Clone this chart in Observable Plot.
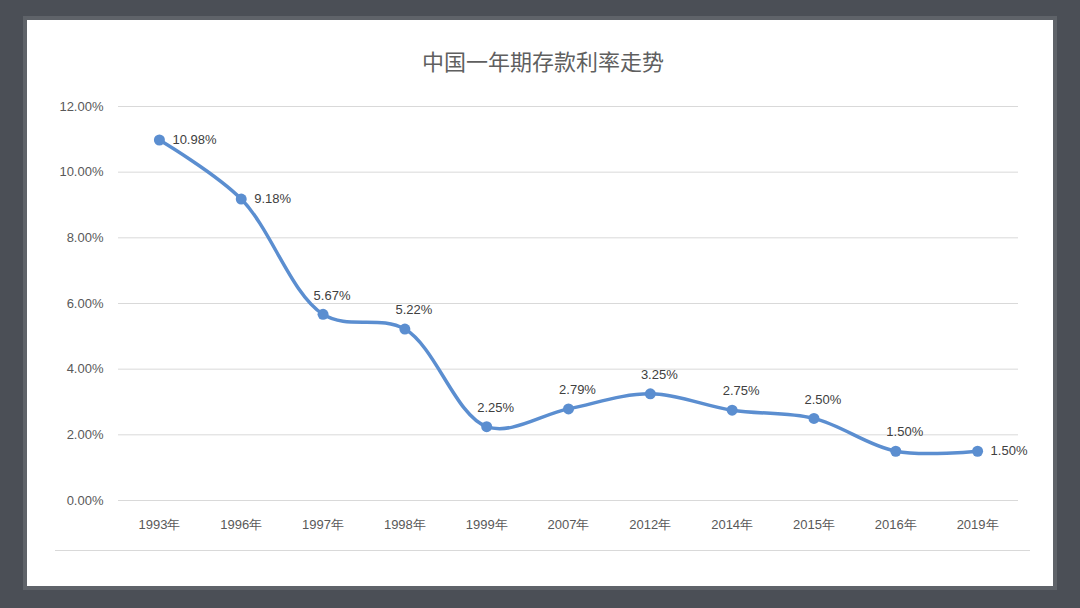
<!DOCTYPE html>
<html>
<head>
<meta charset="utf-8">
<script src="https://cdn.jsdelivr.net/npm/d3@7"></script>
<script src="https://cdn.jsdelivr.net/npm/@observablehq/plot@0.6"></script>
<style>
  html, body { margin: 0; padding: 0; width: 1080px; height: 608px; overflow: hidden; background: #4b4f56; }
  #panel { position: absolute; left: 27px; top: 20px; width: 1026px; height: 566px; background: #ffffff;
           box-shadow: 0 0 0 4px #5f6369; }
  #title { position: absolute; left: 3px; width: 1080px; text-align: center; top: 45px;
           font-family: "Noto Sans CJK SC", sans-serif; font-size: 22px; color: #5f5f5f; line-height: 30px; }
  #chart { position: absolute; left: 0; top: 80px; }
  #baseline { position: absolute; left: 55px; top: 550px; width: 975px; height: 0; border-top: 1px solid #d9d9d9; }
</style>
</head>
<body>
<div id="panel"></div>
<div id="title">中国一年期存款利率走势</div>
<div id="baseline"></div>
<div id="chart"></div>
<script>
const years = ["1993年","1996年","1997年","1998年","1999年","2007年","2012年","2014年","2015年","2016年","2019年"];
const rates = [10.98, 9.18, 5.67, 5.22, 2.25, 2.79, 3.25, 2.75, 2.50, 1.50, 1.50];
const yTicks = [0, 2, 4, 6, 8, 10, 12];
const rightLabelYears = ["1993年","1996年","2019年"];

const data = years.map((y, i) => ({year: y, rate: rates[i], label: rates[i].toFixed(2) + "%"}));
const blue = "#5b8ed0";
const font = "'Liberation Sans', Arial, sans-serif";

const chart = Plot.plot({
  width: 1080,
  height: 480,
  marginLeft: 118,
  marginRight: 62,
  marginTop: 26,
  marginBottom: 60,
  style: {fontFamily: font, fontSize: "13px", color: "#595959", background: "transparent"},
  x: {type: "point", domain: years, padding: 0.5, round: false, label: null},
  y: {domain: [0, 12], label: null},
  marks: [
    Plot.ruleY(yTicks, {stroke: "#d9d9d9", strokeWidth: 1}),
    Plot.axisY(yTicks, {tickSize: 0, tickPadding: 15, tickFormat: d => d.toFixed(2) + "%", label: null, fill: "#595959"}),
    Plot.axisX({tickSize: 0, tickPadding: 19, label: null, fill: "#595959"}),
    Plot.line(data, {x: "year", y: "rate", stroke: blue, strokeWidth: 3.5, curve: "catmull-rom"}),
    Plot.dot(data, {x: "year", y: "rate", r: 5.5, fill: blue}),
    Plot.text(data.filter(d => rightLabelYears.includes(d.year)), {x: "year", y: "rate", text: "label", textAnchor: "start", dx: 13, fill: "#404040"}),
    Plot.text(data.filter(d => !rightLabelYears.includes(d.year)), {x: "year", y: "rate", text: "label", textAnchor: "middle", dx: 9, dy: -19, fill: "#404040"})
  ]
});
document.getElementById("chart").appendChild(chart);
</script>
</body>
</html>
